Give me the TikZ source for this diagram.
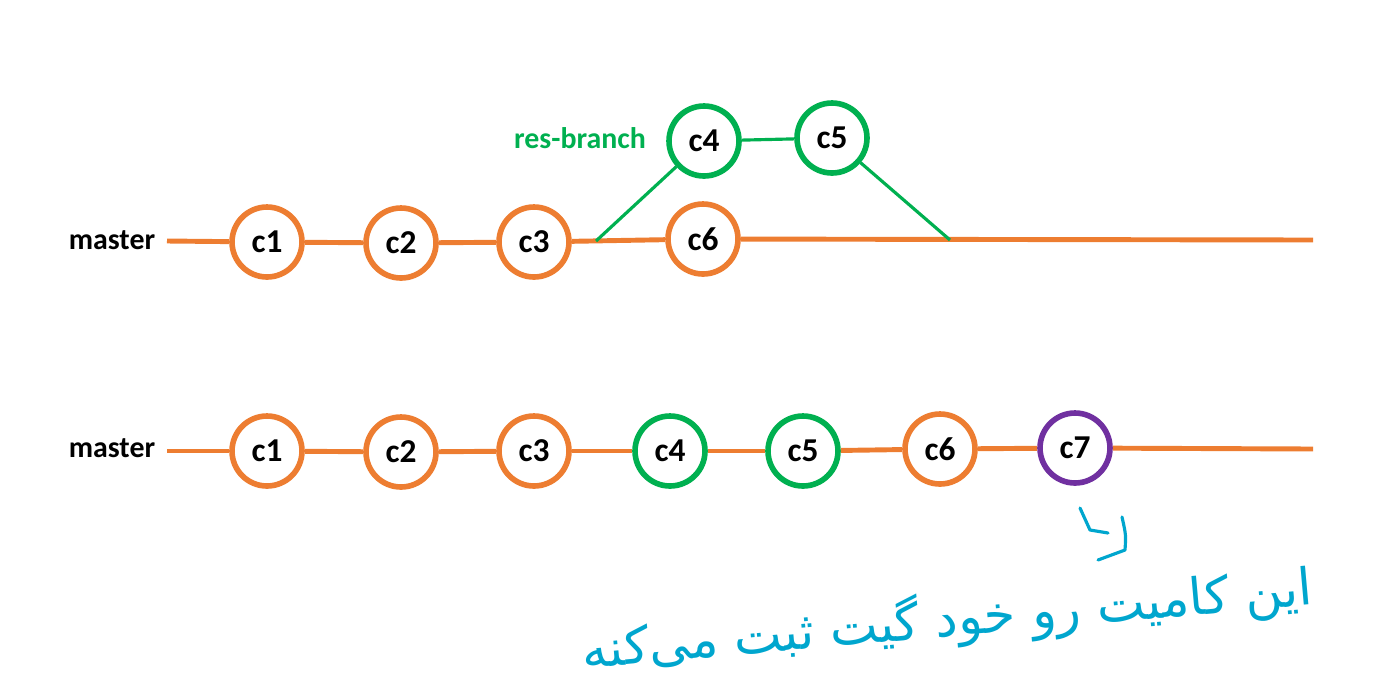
\documentclass[tikz,border=0pt]{standalone}
\usepackage{fontspec}
\setmainfont{Carlito}
\newfontfamily\persianfont[Script=Arabic]{DejaVu Sans}
\TeXXeTstate=1
\usetikzlibrary{positioning, calc}
\definecolor{mastercol}{RGB}{237, 125, 49}
\definecolor{branchcol}{RGB}{0, 176, 80}
\definecolor{mergecol}{RGB}{112, 48, 160}
\definecolor{inkcol}{RGB}{0, 166, 206}

\begin{document}
\begin{tikzpicture}[
    x=0.02cm, y=-0.02cm,
    commit/.style={circle, draw=mastercol, line width=3.2pt, fill=white, minimum size=1.4cm, inner sep=0pt, font=\fontsize{19}{21}\selectfont\bfseries},
    branchcommit/.style={commit, draw=branchcol},
    mergecommit/.style={commit, draw=mergecol},
    label/.style={font=\fontsize{17}{19}\selectfont\bfseries},
    mline/.style={mastercol, line width=2.8pt},
    bline/.style={branchcol, line width=1.8pt},
    ink/.style={inkcol, line width=1.8pt, line cap=round, line join=round}
]
\useasboundingbox (0,0) rectangle (1379,694);

% before the merge
\node[label] (topmaster) at (112,240) {master};
\coordinate (topstart) at (167,241);
\coordinate (topend) at (1313,240);
\node[commit] (ta1) at (267,242) {c1};
\node[commit] (ta2) at (401,243) {c2};
\node[commit] (ta3) at (534,242) {c3};
\node[commit] (ta6) at (703,239) {c6};
\node[branchcommit] (tb4) at (704,141) {c4};
\node[branchcommit] (tb5) at (832,138) {c5};
\node[label, text=branchcol] (resbranch) at (580,138) {res-branch};
\coordinate (fork) at (596,241);
\coordinate (merge) at (950,240);

\draw[mline] (topstart) -- (ta1);
\draw[mline] (ta1) -- (ta2);
\draw[mline] (ta2) -- (ta3);
\draw[mline] (ta3) -- (ta6);
\draw[mline] (ta6) -- (topend);
\draw[bline] (fork) -- (tb4);
\draw[bline] (tb4) -- (tb5);
\draw[bline] (tb5) -- (merge);

% after the merge
\node[label] (botmaster) at (112,448) {master};
\coordinate (botstart) at (167,451);
\coordinate (botend) at (1313,449);
\node[commit] (ba1) at (267,451) {c1};
\node[commit] (ba2) at (401,452) {c2};
\node[commit] (ba3) at (534,451) {c3};
\node[branchcommit] (bb4) at (670,451) {c4};
\node[branchcommit] (bb5) at (803,451) {c5};
\node[commit] (ba6) at (940,449) {c6};
\node[mergecommit] (bc7) at (1075,448) {c7};

\draw[mline] (botstart) -- (ba1);
\draw[mline] (ba1) -- (ba2);
\draw[mline] (ba2) -- (ba3);
\draw[mline] (ba3) -- (bb4);
\draw[mline] (bb4) -- (bb5);
\draw[mline] (bb5) -- (ba6);
\draw[mline] (ba6) -- (bc7);
\draw[mline] (bc7) -- (botend);

% note
\draw[ink] (1080,508) -- (1090,530) -- (1108,533);
\draw[ink] (1122,517) .. controls (1126,535) .. (1125,550) -- (1098,560);
\node[inkcol, rotate=5, font=\persianfont\fontsize{29}{33}\selectfont] (note) at (947,620)
  {\beginR این کامیت رو خود گیت ثبت می‌کنه\endR};
\end{tikzpicture}
\end{document}
